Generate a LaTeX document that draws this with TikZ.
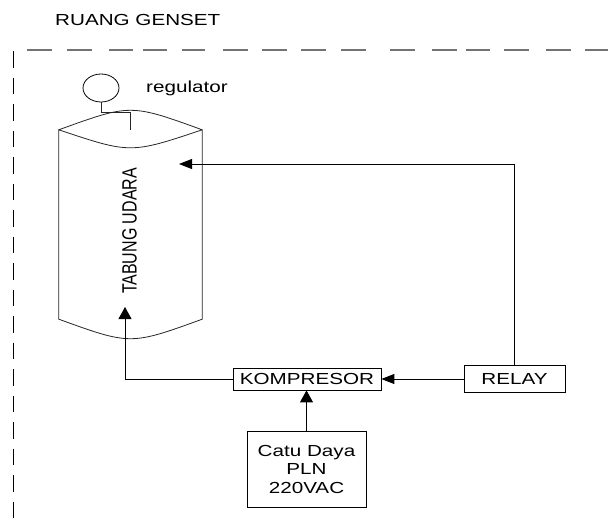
\documentclass[tikz,border=0pt]{standalone}
\usepackage{fontspec}
\usetikzlibrary{arrows.meta,shapes.geometric,calc}
% labels are set a little wider than normal
\newfontfamily\lblfont[FakeStretch=1.29]{Liberation Sans}
\newfontfamily\lblupright{Liberation Sans}
\begin{document}
\begin{tikzpicture}[x=1pt,y=-1pt,
  txt/.style={font=\lblfont\fontsize{16}{18.5}\selectfont, inner sep=0pt},
  blk/.style={draw=black, line width=0.8pt, inner sep=0pt, txt},
  wire/.style={draw=black, line width=0.9pt},
  harrow/.style={wire, -{Triangle[length=13pt,width=10pt]}},
  varrow/.style={wire, -{Triangle[length=12pt,width=13pt]}},
  tankline/.style={draw=black!85, line width=0.8pt},
  wallh/.style={draw=black!55, line width=1.2pt},
  wallv/.style={draw=black, line width=1pt, dash pattern=on 16.5pt off 10pt},
]
\useasboundingbox (0,0) rectangle (608,523);

% room boundary
\node[txt, anchor=base west] (title) at (55,25) {RUANG GENSET};
\foreach \a/\b in {27/52, 67/92, 109/133, 143/167, 182/205, 223/248, 262/287,
                   301/326, 341/366, 390/415, 432/457, 466/490, 504/529,
                   546/571, 585/608}
  \draw[wallh] (\a,50) -- (\b,50);
\draw[wallv] (13,51) -- (13,523);

% regulator on top of the air tank
\node[draw, ellipse, line width=0.8pt, minimum width=36pt, minimum height=28pt,
      inner sep=0pt] (reg) at (101,88) {};
\node[txt, anchor=base west] (reglbl) at (146,92) {regulator};

% air tank (cylinder)
\node[minimum width=143pt, minimum height=189pt, inner sep=0pt] (tank) at (130.5,224.5) {};
\draw[tankline] (tank.north west) -- (tank.south west)
  .. controls ($(tank.south)+(0,26)$) .. (tank.south east)
  -- (tank.north east)
  .. controls ($(tank.north)+(0,-26)$) .. (tank.north west)
  .. controls ($(tank.north)+(0,24)$) .. (tank.north east);
\node[inner sep=0pt, rotate=90, font=\lblupright\fontsize{16}{18.5}\selectfont]
  (tanklbl) at (129.5,231) {\scalebox{1}[1.29]{TABUNG UDARA}};
\draw[tankline] (reg.south) -- ++(0,10) -| (tank.north);

% blocks
\node[blk, minimum width=148pt, minimum height=22pt] (komp) at (307,379) {KOMPRESOR};
\node[blk, minimum width=101pt, minimum height=27pt] (relay) at (514.5,379) {RELAY};
\node[blk, minimum width=119pt, minimum height=76pt, align=center] (catu) at (306.5,469)
  {Catu Daya\\PLN\\220VAC};

% connections
\coordinate (tankin) at (179,164);
\coordinate (tankbot) at (125,307);
\draw[harrow] (relay.north) |- (tankin);
\draw[harrow] (relay.west) -- (komp.east);
\draw[varrow] (komp.west) -| (tankbot);
\draw[varrow] (catu.north) -- (catu.north |- komp.south);
\end{tikzpicture}
\end{document}
